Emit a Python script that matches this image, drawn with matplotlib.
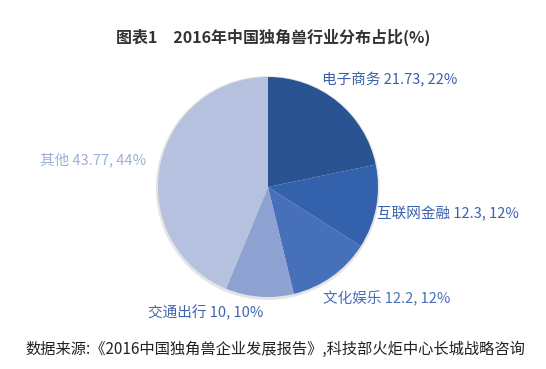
import matplotlib

matplotlib.use("Agg")
import matplotlib.pyplot as plt
from matplotlib.patches import Circle

plt.rcParams["font.family"] = ["Noto Sans CJK SC", "DejaVu Sans"]

# data
categories = ["电子商务", "互联网金融", "文化娱乐", "交通出行", "其他"]
values = [21.73, 12.3, 12.2, 10, 43.77]
colors = ["#2a5392", "#3461ac", "#4670ba", "#8ea2d1", "#b6c1df"]
label_colors = ["#3a5fa8", "#3a62ad", "#4470ba", "#3d66b0", "#9cb0d9"]
# label anchor (left edge, vertical centre) in pixel coords from the top
label_pos = [(322, 80), (377, 214), (323, 299), (148, 312), (40, 160)]

W, H = 546, 369
fig = plt.figure(figsize=(W / 100, H / 100), dpi=100)
ax = fig.add_axes([0, 0, 1, 1])

cx, cy, r = 268, H - 187, 110
# faint shadow behind the pie
ax.add_patch(Circle((cx - 0.3, cy - 1.0), r + 1.2, color="#e4e4e4", zorder=0))
ax.pie(values, colors=colors, startangle=90, counterclock=False,
       center=(cx, cy), radius=r, wedgeprops=dict(linewidth=0))

for name, v, c, (x, y) in zip(categories, values, label_colors, label_pos):
    ax.text(x, H - y, f"{name} {v:g}, {round(v)}%", color=c, fontsize=10.5,
            fontweight="medium", ha="left", va="center")

ax.text(273, H - 37, "图表1　2016年中国独角兽行业分布占比(%)", color="#333333",
        fontsize=11.5, fontweight="bold", ha="center", va="center")
ax.text(275, H - 349, "数据来源:《2016中国独角兽企业发展报告》,科技部火炬中心长城战略咨询",
        color="#222222", fontsize=11, ha="center", va="center")

ax.set_xlim(0, W)
ax.set_ylim(0, H)
ax.set_aspect("equal")
ax.axis("off")
fig.savefig("out.png", dpi=100)
